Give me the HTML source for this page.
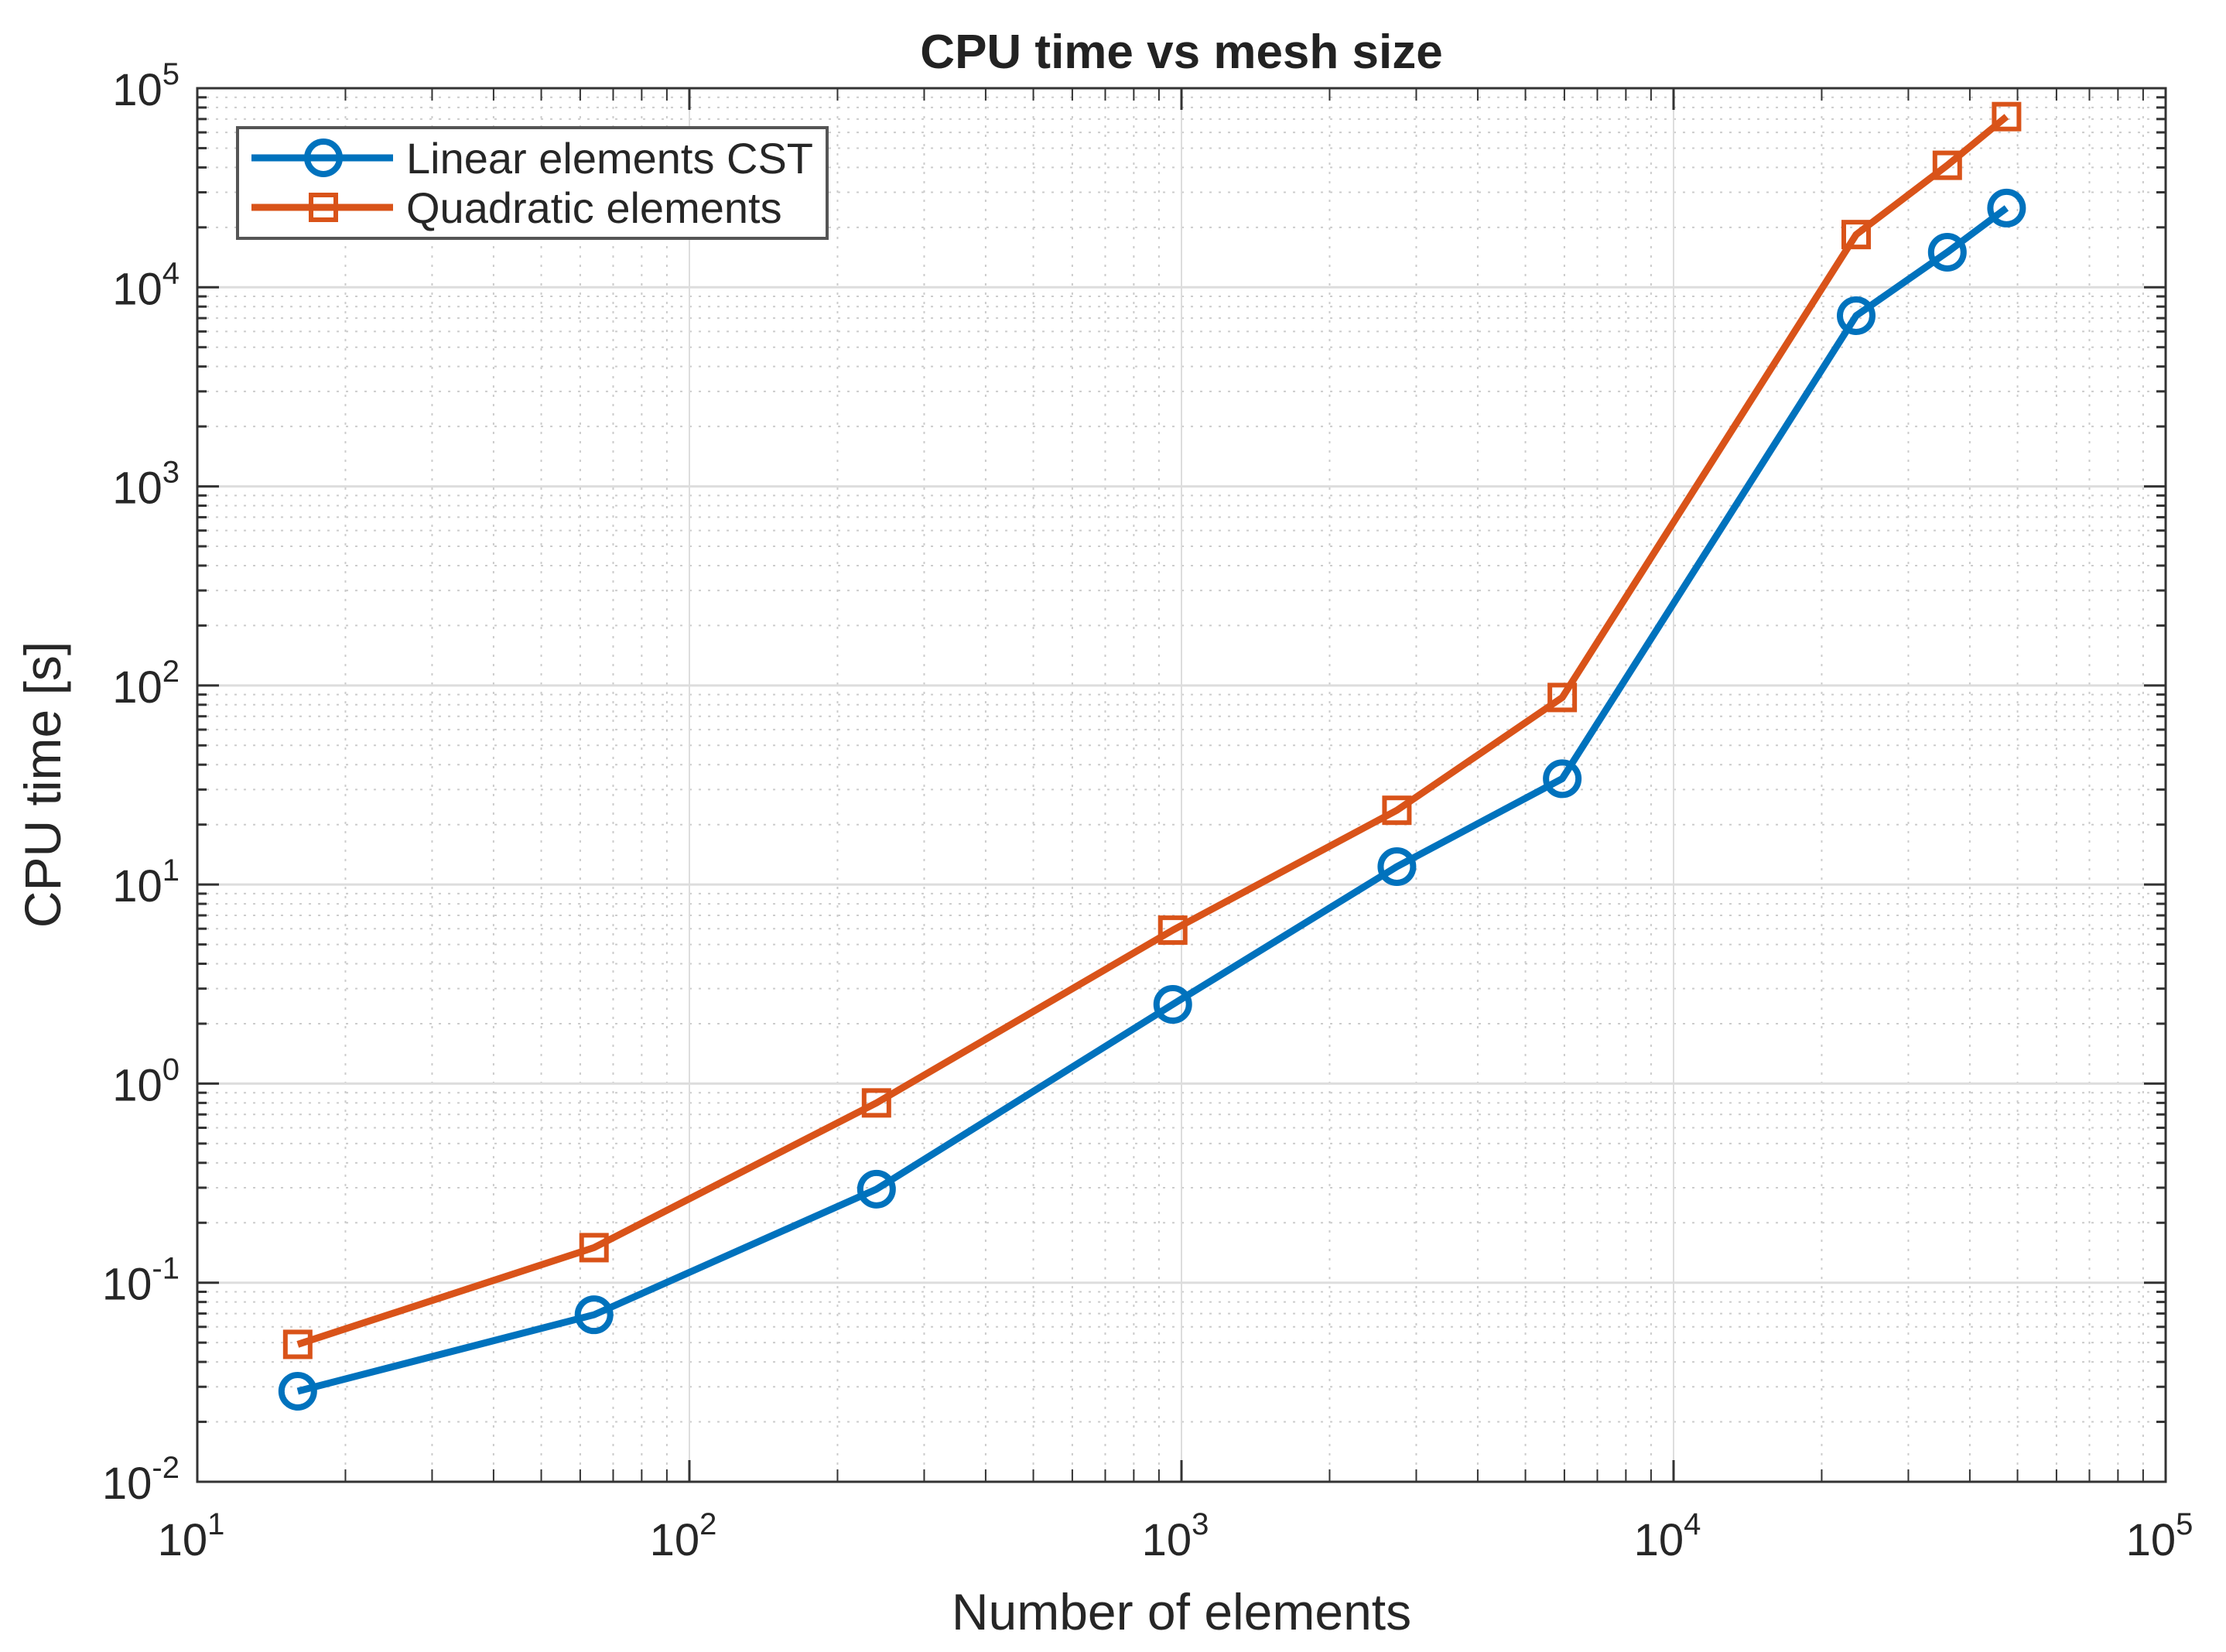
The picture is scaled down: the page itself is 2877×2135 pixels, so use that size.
<!DOCTYPE html>
<html><head><meta charset="utf-8"><style>
html,body{margin:0;padding:0;background:#fff;}
svg{display:block;font-family:"Liberation Sans",Arial,sans-serif;}
</style></head>
<body>
<svg id="chart" width="2877" height="2135" viewBox="0 0 2877 2135">
<text x="1527" y="88" text-anchor="middle" font-size="62" font-weight="bold" fill="#222">CPU time vs mesh size</text>
<text x="1527" y="2106" text-anchor="middle" font-size="66" fill="#262626">Number of elements</text>
<text transform="translate(78,1014) rotate(-90)" text-anchor="middle" font-size="66" fill="#262626">CPU time [s]</text>
<g id="grid"></g>
<g id="series"></g>
<g id="axes"></g>
</svg>
<script>
const xCats = [16, 64, 240, 960, 2740, 5940, 23500, 36000, 47500];
const linearVals = [0.0285, 0.069, 0.295, 2.5, 12.3, 34, 7200, 15000, 25000];
const quadVals = [0.049, 0.15, 0.8, 5.9, 23.6, 87, 18400, 41000, 72000];
const xTickExp = [1, 2, 3, 4, 5];
const yTickExp = [-2, -1, 0, 1, 2, 3, 4, 5];

const L=255, R=2799, T=114, B=1915;
const NS="http://www.w3.org/2000/svg";
function X(v){return L+(Math.log10(v)-1)/4*(R-L);}
function Y(v){return B-(Math.log10(v)+2)/7*(B-T);}
function mk(tag,attrs,parent){const e=document.createElementNS(NS,tag);for(const k in attrs)e.setAttribute(k,attrs[k]);parent.appendChild(e);return e;}
const grid=document.getElementById('grid'), axes=document.getElementById('axes'), ser=document.getElementById('series');

for(let d=1;d<5;d++)for(let m=2;m<=9;m++){const x=X(m*Math.pow(10,d));
 const l=mk('line',{x1:x,x2:x,y1:T,y2:B,stroke:'#ccc','stroke-width':2,'stroke-dasharray':'3 9'},grid);
 
 
 mk('line',{x1:x,x2:x,y1:B,y2:B-16,stroke:'#333','stroke-width':2},axes);
 mk('line',{x1:x,x2:x,y1:T,y2:T+16,stroke:'#333','stroke-width':2},axes);}
for(let d=-2;d<5;d++)for(let m=2;m<=9;m++){const y=Y(m*Math.pow(10,d));
 const l=mk('line',{x1:L,x2:R,y1:y,y2:y,stroke:'#ccc','stroke-width':2,'stroke-dasharray':'3 9'},grid);
 
 
 mk('line',{x1:L,x2:L+12,y1:y,y2:y,stroke:'#333','stroke-width':3},axes);
 mk('line',{x1:R,x2:R-12,y1:y,y2:y,stroke:'#333','stroke-width':3},axes);}
xTickExp.forEach(e=>{const x=X(Math.pow(10,e));
 const l=mk('line',{x1:x,x2:x,y1:T,y2:B,stroke:'#ddd','stroke-width':2},grid);
 
 
 mk('line',{x1:x,x2:x,y1:B,y2:B-28,stroke:'#333','stroke-width':3},axes);
 mk('line',{x1:x,x2:x,y1:T,y2:T+28,stroke:'#333','stroke-width':3},axes);
 const t=mk('text',{x:x-8,y:2010,'text-anchor':'middle','font-size':58,fill:'#262626'},axes);
 
 
 t.textContent='10';const s=mk('tspan',{dy:-27,'font-size':40},t);s.textContent=String(e);});
yTickExp.forEach(e=>{const y=Y(Math.pow(10,e));
 const l=mk('line',{x1:L,x2:R,y1:y,y2:y,stroke:'#ddd','stroke-width':3},grid);
 
 
 mk('line',{x1:L,x2:L+28,y1:y,y2:y,stroke:'#333','stroke-width':3},axes);
 mk('line',{x1:R,x2:R-28,y1:y,y2:y,stroke:'#333','stroke-width':3},axes);
 const t=mk('text',{x:232,y:y+22,'text-anchor':'end','font-size':58,fill:'#262626'},axes);
 
 
 t.textContent='10';const s=mk('tspan',{dy:-27,'font-size':40},t);s.textContent=String(e);});
mk('rect',{x:L,y:T,width:R-L,height:B-T,fill:'none',stroke:'#333','stroke-width':3},axes);

function series(vals,color,name,marker){
 const pts=xCats.map((c,i)=>X(c)+','+Y(vals[i])).join(' ');
 const pl=mk('polyline',{points:pts,fill:'none',stroke:color,'stroke-width':9,'stroke-linejoin':'round'},ser);
 
 
 xCats.forEach((c,i)=>{const x=X(c),y=Y(vals[i]);let m;
  if(marker==='circle')m=mk('circle',{cx:x,cy:y,r:21,fill:'none',stroke:color,'stroke-width':8},ser);
  else m=mk('rect',{x:x-16,y:y-16,width:32,height:32,fill:'none',stroke:color,'stroke-width':6},ser);
  
  });
}
series(linearVals,'#0072BD','linear','circle');
series(quadVals,'#D95319','quadratic','square');

const lg=mk('g',{},axes);


mk('rect',{x:307,y:165,width:762,height:143,fill:'#fff',stroke:'#555','stroke-width':4},lg);
mk('line',{x1:325,x2:508,y1:204,y2:204,stroke:'#0072BD','stroke-width':9},lg);
mk('circle',{cx:418,cy:204,r:21,fill:'none',stroke:'#0072BD','stroke-width':8},lg);
mk('line',{x1:325,x2:508,y1:268,y2:268,stroke:'#D95319','stroke-width':9},lg);
mk('rect',{x:402,y:252,width:32,height:32,fill:'none',stroke:'#D95319','stroke-width':6},lg);
const t1=mk('text',{x:525,y:224,'font-size':56,fill:'#262626'},lg);t1.textContent='Linear elements CST';


const t2=mk('text',{x:525,y:288,'font-size':56,fill:'#262626'},lg);t2.textContent='Quadratic elements';


</script>
</body></html>
